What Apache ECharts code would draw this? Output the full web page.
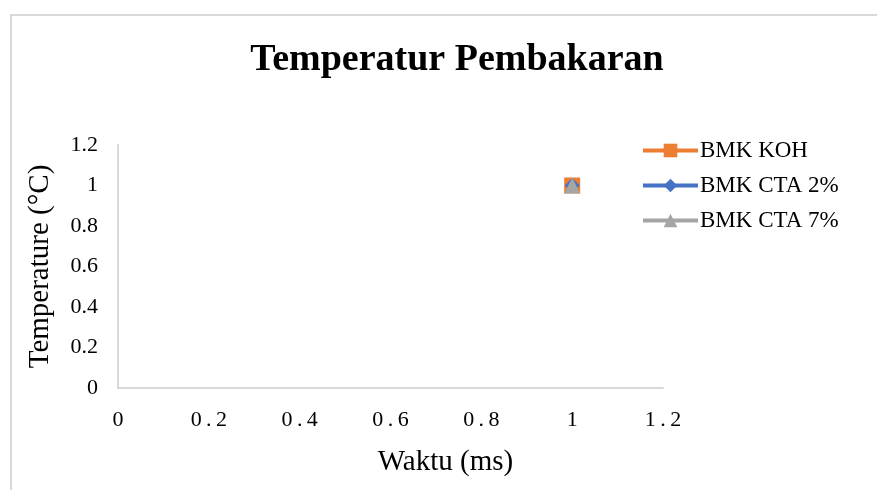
<!DOCTYPE html>
<html>
<head>
<meta charset="utf-8">
<script src="https://cdn.jsdelivr.net/npm/echarts@6/dist/echarts.min.js"></script>
<style>
html,body{margin:0;padding:0;background:#fff;}
#frame{position:absolute;left:10px;top:14px;width:900px;height:500px;border-left:2px solid #d9d9d9;border-top:2px solid #d9d9d9;box-sizing:border-box;}
#chart{position:absolute;left:0;top:0;width:877px;height:490px;}
</style>
</head>
<body>
<div id="frame"></div>
<div id="chart"></div>
<script>
const seriesNames = ['BMK KOH', 'BMK CTA 2%', 'BMK CTA 7%'];
const seriesColors = ['#ED7D31', '#4472C4', '#A5A5A5'];
const seriesSymbols = ['rect', 'diamond', 'triangle'];
const kohData = [[1, 1]];
const cta2Data = [[1, 1]];
const cta7Data = [[1, 1]];
const xTicks = [0, 0.2, 0.4, 0.6, 0.8, 1, 1.2];
const yTicks = [0, 0.2, 0.4, 0.6, 0.8, 1, 1.2];

const font = 'Liberation Serif, Times New Roman, serif';
const chart = echarts.init(document.getElementById('chart'), null, {renderer: 'canvas'});
const dataSets = [kohData, cta2Data, cta7Data];
const symbolSizes = [16, 15, 16];

chart.setOption({
  backgroundColor: 'transparent',
  animation: false,
  title: {
    text: 'Temperatur Pembakaran',
    left: 452, top: 36, textAlign: 'center',
    textStyle: {fontFamily: font, fontWeight: 'bold', fontSize: 38, color: '#000'}
  },
  legend: {
    orient: 'vertical',
    left: 636, top: 134,
    itemWidth: 55, itemHeight: 17, itemGap: 12,
    data: seriesNames,
    lineStyle: {width: 4},
    textStyle: {fontFamily: font, fontSize: 23, color: '#000', padding: [0,0,0,-3]}
  },
  grid: {left: 118, right: 214, top: 145, bottom: 102, containLabel: false},
  xAxis: {
    type: 'value', min: xTicks[0], max: xTicks[xTicks.length-1], interval: 0.2,
    name: 'Waktu (ms)', nameLocation: 'middle', nameGap: 60,
    nameTextStyle: {fontFamily: font, fontSize: 29, color: '#000', padding: [0,0,0,110]},
    axisLine: {show: true, lineStyle: {color: '#d9d9d9', width: 2}},
    axisTick: {show: false},
    splitLine: {show: false},
    axisLabel: {fontFamily: font, fontSize: 22, color: '#000', margin: 21,
      formatter: v => String(Math.round(v*10)/10).replace('.', '\u2009.\u2009')}
  },
  yAxis: {
    type: 'value', min: yTicks[0], max: yTicks[yTicks.length-1], interval: 0.2,
    name: 'Temperature (°C)', nameLocation: 'middle', nameGap: 63,
    nameTextStyle: {fontFamily: font, fontSize: 29, color: '#000'},
    axisLine: {show: true, lineStyle: {color: '#d9d9d9', width: 2}},
    axisTick: {show: false},
    splitLine: {show: false},
    axisLabel: {fontFamily: font, fontSize: 22, color: '#000', margin: 20,
      formatter: v => String(Math.round(v*10)/10)}
  },
  series: seriesNames.map((n, i) => ({
    name: n, type: 'line', data: dataSets[i],
    symbol: seriesSymbols[i], symbolSize: symbolSizes[i],
    showSymbol: true,
    itemStyle: {color: seriesColors[i]},
    lineStyle: {color: seriesColors[i], width: 4}
  }))
});
</script>
</body>
</html>
